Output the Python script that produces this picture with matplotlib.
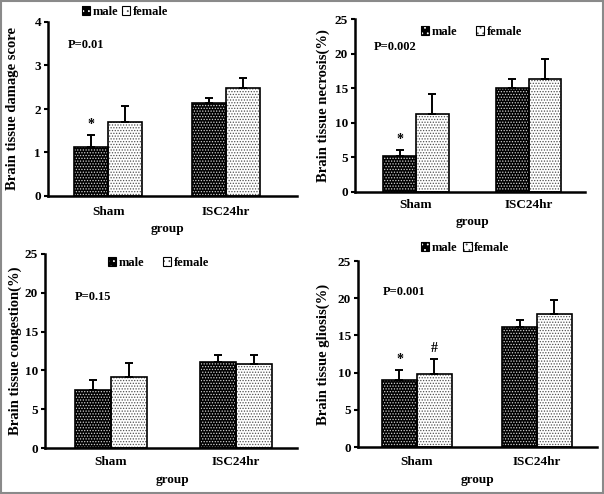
import matplotlib
matplotlib.use("Agg")
import matplotlib.pyplot as plt
import matplotlib.patches as mpatches
import numpy as np

plt.rcParams['font.family'] = ['Liberation Serif', 'DejaVu Serif']
plt.rcParams['font.weight'] = 'bold'
plt.rcParams['hatch.linewidth'] = 0.6

groups = ["Sham", "ISC24hr"]
series = ["male", "female"]

damage_male = [1.12, 2.13]
damage_male_err = [0.28, 0.12]
damage_female = [1.71, 2.49]
damage_female_err = [0.36, 0.23]

necrosis_male = [5.2, 15.0]
necrosis_male_err = [0.9, 1.3]
necrosis_female = [11.3, 16.4]
necrosis_female_err = [2.9, 2.8]

congestion_male = [7.5, 11.1]
congestion_male_err = [1.2, 0.9]
congestion_female = [9.2, 10.8]
congestion_female_err = [1.8, 1.2]

gliosis_male = [9.0, 16.1]
gliosis_male_err = [1.3, 0.95]
gliosis_female = [9.8, 17.9]
gliosis_female_err = [2.0, 1.8]

W, H = 604, 494
fig = plt.figure(figsize=(W / 100, H / 100), dpi=100)

def fx(px):
    return px / W

def fy(py):
    return 1 - py / H

panels = [
    dict(box=(48, 297, 22, 196), ylim=4, step=1, xlim=(-0.51, 1.60),
         male=damage_male, merr=damage_male_err, female=damage_female, ferr=damage_female_err,
         ylabel="Brain tissue damage score", ylab_x=13, p="P=0.01", p_xy=(68, 45),
         leg=(82, 12), colsp=0.3, tick_y=212, group_xy=(167, 229),
         marks=[(0, 0, "*")]),
    dict(box=(355, 585, 19, 192), ylim=25, step=5, xlim=(-0.54, 1.50),
         male=necrosis_male, merr=necrosis_male_err, female=necrosis_female, ferr=necrosis_female_err,
         ylabel="Brain tissue necrosis(%)", ylab_x=323, p="P=0.002", p_xy=(374, 47),
         leg=(421, 32), colsp=1.5, tick_y=205, group_xy=(472, 222),
         marks=[(0, 0, "*")]),
    dict(box=(45, 297, 254, 448), ylim=25, step=5, xlim=(-0.53, 1.49),
         male=congestion_male, merr=congestion_male_err, female=congestion_female, ferr=congestion_female_err,
         ylabel="Brain tissue congestion(%)", ylab_x=15, p="P=0.15", p_xy=(75, 297),
         leg=(108, 263), colsp=1.5, tick_y=462, group_xy=(172, 480),
         marks=[]),
    dict(box=(358, 597, 261, 447), ylim=25, step=5, xlim=(-0.49, 1.50),
         male=gliosis_male, merr=gliosis_male_err, female=gliosis_female, ferr=gliosis_female_err,
         ylabel="Brain tissue gliosis(%)", ylab_x=323, p="P=0.001", p_xy=(383, 292),
         leg=(421, 248), colsp=0.5, tick_y=462, group_xy=(477, 480),
         marks=[(0, 0, "*"), (0, 1, "#")]),
]

bw = 0.29
x = np.arange(len(groups))
MALE_HATCH = "......"
FEMALE_HATCH = "......"

for pn in panels:
    l, r, t, b = pn["box"]
    ax = fig.add_axes([fx(l), fy(b), fx(r) - fx(l), fy(t) - fy(b)])
    ax.set_xlim(*pn["xlim"])
    ax.set_ylim(0, pn["ylim"])
    xm = x - bw / 2
    xf = x + bw / 2
    # male: black with white dots
    ax.bar(xm, pn["male"], bw, color="black", edgecolor="#d0d0d0", hatch=MALE_HATCH, linewidth=0, zorder=2)
    ax.bar(xm, pn["male"], bw, fill=False, edgecolor="black", linewidth=1.2, zorder=3)
    # female: white with dark dots
    ax.bar(xf, pn["female"], bw, color="white", edgecolor="#505050", hatch=FEMALE_HATCH, linewidth=0, zorder=2)
    ax.bar(xf, pn["female"], bw, fill=False, edgecolor="black", linewidth=1.2, zorder=3)
    z = np.zeros(len(groups))
    ax.errorbar(xm, pn["male"], yerr=[z, pn["merr"]], fmt="none", ecolor="black",
                elinewidth=1.4, capsize=3, capthick=1.4, zorder=4)
    ax.errorbar(xf, pn["female"], yerr=[z, pn["ferr"]], fmt="none", ecolor="black",
                elinewidth=1.4, capsize=3, capthick=1.4, zorder=4)
    for gi, si, sym in pn["marks"]:
        if si == 0:
            xx, top = xm[gi], pn["male"][gi] + pn["merr"][gi]
        else:
            xx, top = xf[gi], pn["female"][gi] + pn["ferr"][gi]
        ax.annotate(sym, (xx, top), xytext=(0, 3), textcoords="offset points",
                    ha="center", va="bottom", fontsize=10, fontweight="bold")
    for s in ["top", "right"]:
        ax.spines[s].set_visible(False)
    for s in ["left", "bottom"]:
        ax.spines[s].set_linewidth(1.8)
    ax.set_yticks(np.arange(0, pn["ylim"] + 0.001, pn["step"]))
    ax.tick_params(axis="y", direction="out", length=3, width=1.5, labelsize=9.5, pad=2)
    ax.set_xticks(x)
    ax.set_xticklabels(groups)
    ax.tick_params(axis="x", length=0, labelsize=9.5)
    ax.tick_params(axis="x", pad=(pn["tick_y"] - b) * 0.72 - 4.5)
    for lab in ax.get_yticklabels() + ax.get_xticklabels():
        lab.set_fontweight("bold")
    ax.set_ylabel(pn["ylabel"], fontsize=10.5, fontweight="bold", va="center")
    ax.yaxis.set_label_coords(fx(pn["ylab_x"]), (fy(t) + fy(b)) / 2, transform=fig.transFigure)
    ax.set_xlabel("group", fontsize=9.5, fontweight="bold")
    ax.xaxis.set_label_coords(fx(pn["group_xy"][0]), fy(pn["group_xy"][1]), transform=fig.transFigure)
    ax.xaxis.label.set_verticalalignment("center")
    fig.text(fx(pn["p_xy"][0]), fy(pn["p_xy"][1]), pn["p"], ha="left", va="center",
             fontsize=9, fontweight="bold")
    h_m = (mpatches.Patch(facecolor="black", edgecolor="white", hatch="...", linewidth=0),
           mpatches.Patch(fill=False, edgecolor="black", linewidth=0.8))
    h_f = (mpatches.Patch(facecolor="white", edgecolor="#505050", hatch="...", linewidth=0),
           mpatches.Patch(fill=False, edgecolor="black", linewidth=0.8))
    leg = ax.legend([h_m, h_f], series, loc="center left",
                    bbox_to_anchor=(fx(pn["leg"][0]), fy(pn["leg"][1])),
                    bbox_transform=fig.transFigure, ncol=2, frameon=False,
                    handlelength=0.65, handleheight=0.65, handletextpad=0.2,
                    columnspacing=pn["colsp"], borderpad=0, borderaxespad=0,
                    prop=dict(size=9, weight="bold"))

# outer gray frame
fig.patches.append(mpatches.Rectangle((0.002, 0.002), 0.996, 0.996, transform=fig.transFigure,
                                      fill=False, edgecolor="#8a8a8a", linewidth=1.5))

fig.savefig("out.png", dpi=100)
